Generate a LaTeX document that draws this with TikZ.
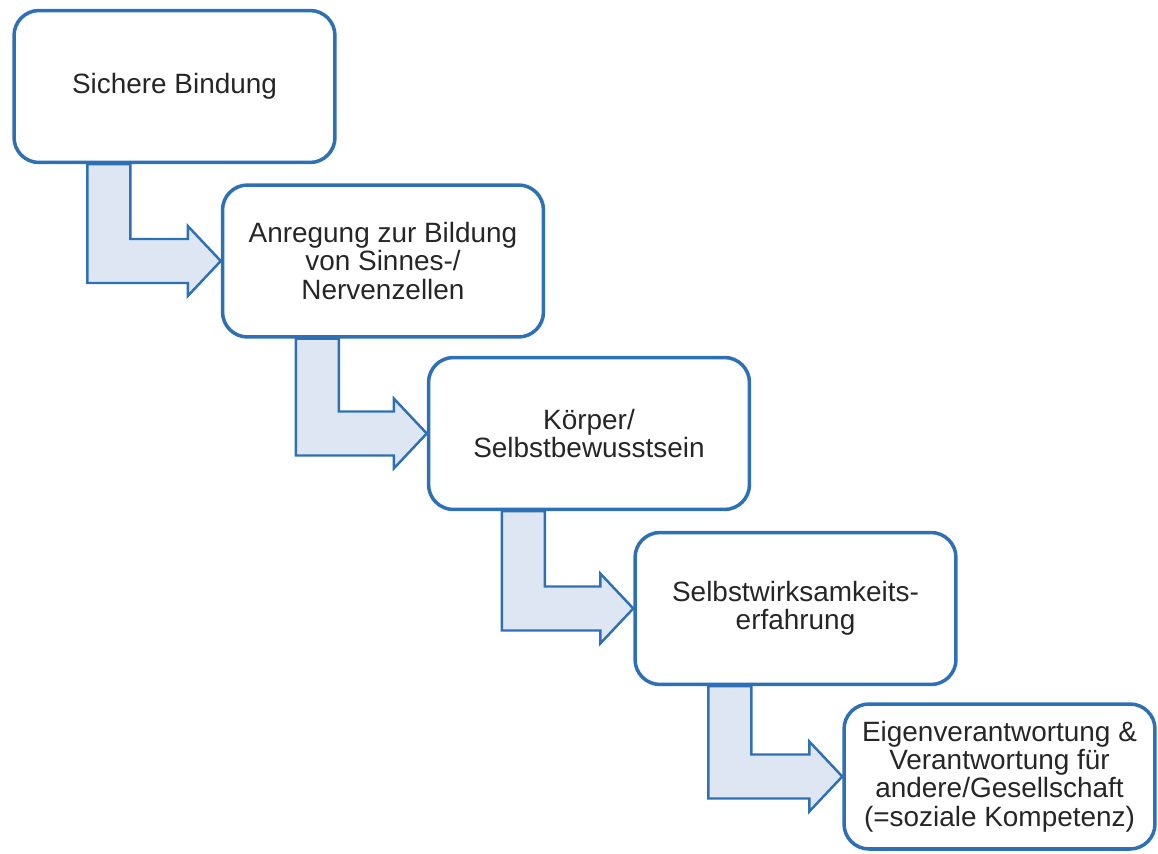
\documentclass[tikz,border=0pt]{standalone}
\usepackage{fontspec}
\setmainfont{Liberation Sans}
\usetikzlibrary{calc, backgrounds}
\definecolor{rahmen}{RGB}{46,112,182}
\definecolor{pfeilfill}{RGB}{221,230,242}

\begin{document}
\begin{tikzpicture}[
  x=0.02cm,
  y=-0.02cm,
  kasten/.style={draw=rahmen, line width=2pt, fill=white, rounded corners=0.5cm,
    minimum width=6.42cm, minimum height=3.04cm, align=center, text=black!85,
    font=\fontsize{15.9}{16.2}\selectfont},
  pfeil/.style={draw=rahmen, line width=1.4pt, fill=pfeilfill, line join=miter}
  ]
    \useasboundingbox (0,0) rectangle (1158,854);

    % Stufen
    \node[kasten] (bindung) at (174.5,86.5) {Sichere Bindung};
    \node[kasten] (anregung) at (383,261) {Anregung zur Bildung\\von Sinnes-/\\Nervenzellen};
    \node[kasten] (koerper) at (589,433.5) {Körper/\\Selbstbewusstsein};
    \node[kasten] (wirksam) at (795.5,608.5) {Selbstwirksamkeits-\\erfahrung};
    \node[kasten, minimum width=6.22cm, minimum height=2.9cm] (verantwortung) at (999.5,776.5)
      {Eigenverantwortung \&\\Verantwortung für\\andere/Gesellschaft\\(=soziale Kompetenz)};

%pfeile (hinter den kaesten)
\begin{scope}[on background layer]
\draw[pfeil] ($(bindung.south west)+(75,0)$) coordinate (s1) -- ++(43,0) |- ($(anregung.west)+(-33,-22)$) -- ++(0,-13) -- (anregung.west) -- ++(-33,35) -- ++(0,-13) -- ($(s1 |- anregung.west)+(0,22)$) -- cycle;

\draw[pfeil] ($(anregung.south west)+(75,0)$) coordinate (s2) -- ++(43,0) |- ($(koerper.west)+(-33,-22)$) -- ++(0,-13) -- (koerper.west) -- ++(-33,35) -- ++(0,-13) -- ($(s2 |- koerper.west)+(0,22)$) -- cycle;

\draw[pfeil] ($(koerper.south west)+(75,0)$) coordinate (s3) -- ++(43,0) |- ($(wirksam.west)+(-33,-22)$) -- ++(0,-13) -- (wirksam.west) -- ++(-33,35) -- ++(0,-13) -- ($(s3 |- wirksam.west)+(0,22)$) -- cycle;

\draw[pfeil] ($(wirksam.south west)+(75,0)$) coordinate (s4) -- ++(43,0) |- ($(verantwortung.west)+(-33,-22)$) -- ++(0,-13) -- (verantwortung.west) -- ++(-33,35) -- ++(0,-13) -- ($(s4 |- verantwortung.west)+(0,22)$) -- cycle;
\end{scope}

\end{tikzpicture}
\end{document}
